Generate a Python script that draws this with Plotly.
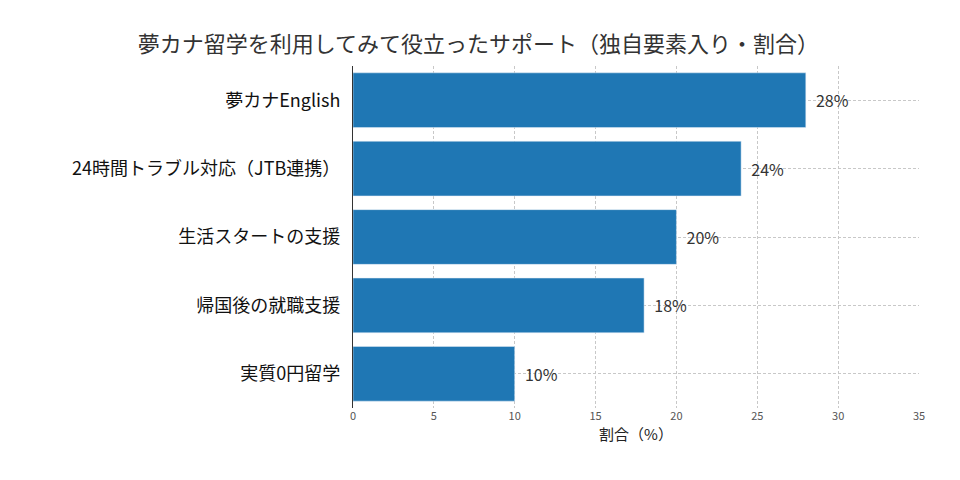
import plotly.graph_objects as go

categories = ["夢カナEnglish", "24時間トラブル対応（JTB連携）", "生活スタートの支援", "帰国後の就職支援", "実質0円留学"]
values = [28, 24, 20, 18, 10]
labels = [f"  {v}%" for v in values]

fig = go.Figure(go.Bar(
    x=values, y=categories, orientation="h",
    marker_color="#1f77b4", width=0.8,
    text=labels, textposition="outside",
    textfont=dict(size=16, color="#333"),
    cliponaxis=False,
))
fig.update_layout(
    width=960, height=480,
    font=dict(family="Noto Sans CJK JP", color="#333"),
    title=dict(text="夢カナ留学を利用してみて役立ったサポート（独自要素入り・割合）",
               x=0.49, xanchor="center", y=0.94, font=dict(size=22, color="#333")),
    margin=dict(l=345, r=49, t=58, b=80),
    plot_bgcolor="white", paper_bgcolor="white",
    showlegend=False,
    xaxis=dict(range=[0, 35], dtick=5, showgrid=True, gridcolor="#c8c8c8", griddash="3px,2px",
               gridwidth=0.6, zeroline=False, automargin=False, ticks="",
               tickfont=dict(size=11, color="#555"),
               title=dict(text="割合（%）", font=dict(size=15, color="#222"), standoff=6)),
    yaxis=dict(autorange="reversed", showgrid=True, gridcolor="#c8c8c8", griddash="3px,2px",
               gridwidth=0.6, showline=True, linecolor="#333", linewidth=1, automargin=False,
               tickfont=dict(size=18, color="#111"), ticksuffix="  "),
)
fig.write_html("out.html")
